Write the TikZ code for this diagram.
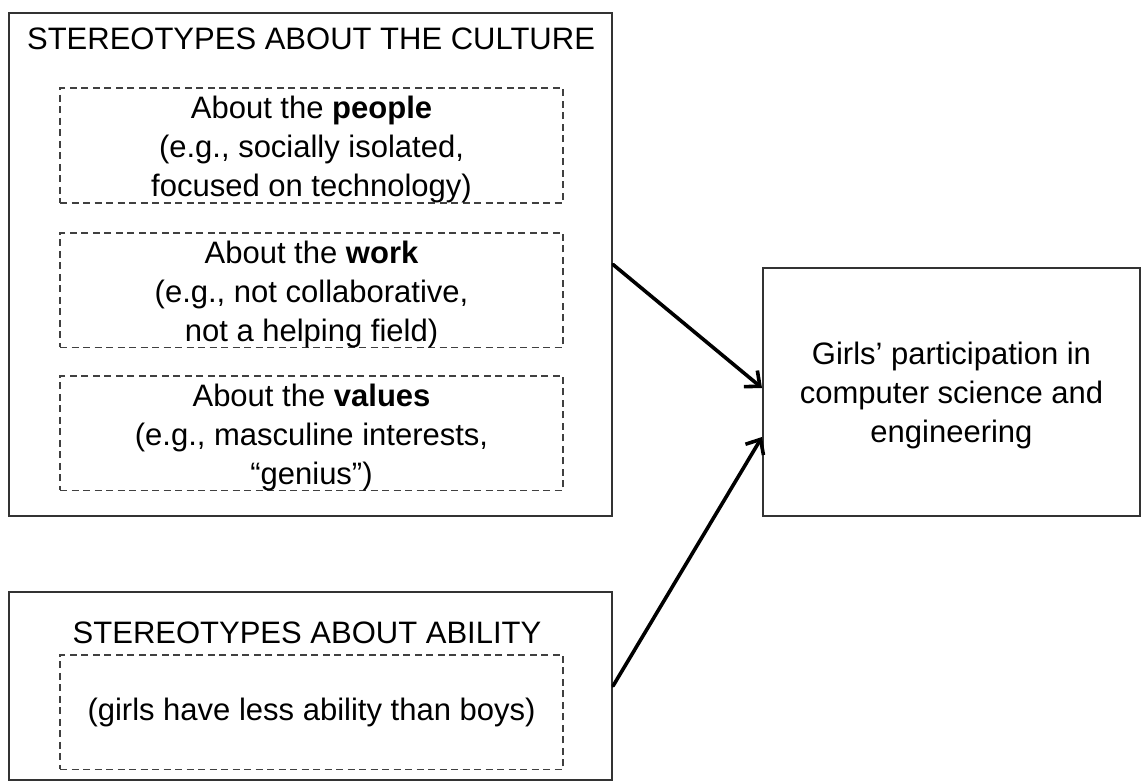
\documentclass[tikz,border=0pt]{standalone}
\usepackage{fontspec}
\setmainfont{Liberation Sans}
\usetikzlibrary{arrows.meta}
\begin{document}
\begin{tikzpicture}[x=1pt, y=-1pt,
  frame/.style={draw=black!80, line width=2pt, inner sep=0pt},
  dbox/.style={draw=black!75, line width=1.5pt, dash pattern=on 7pt off 4.5pt,
    minimum width=503pt, minimum height=114.5pt, inner sep=0pt},
  caption/.style={font=\fontsize{31}{39}\selectfont, align=center, inner sep=0pt},
  link/.style={line width=3.6pt, line cap=round,
    -{Straight Barb[length=12pt, width=21pt, line width=3.6pt]}}]
  \useasboundingbox (0,0) rectangle (1141,781);

  % culture stereotypes
  \node[frame, minimum width=603pt, minimum height=503pt] (culture) at (310.5,264.5) {};
  \node[caption, anchor=base] (cultureTitle) at (311,50) {STEREOTYPES ABOUT THE CULTURE};
  \node[dbox] (people) at (311.5,145.5) {};
  \node[caption] (peopleText) at ([yshift=-4pt]people.center)
    {About the \textbf{people}\\(e.g., socially isolated,\\focused on technology)};
  \node[dbox] (work) at (311.5,290) {};
  \node[caption] (workText) at ([yshift=-4pt]work.center)
    {About the \textbf{work}\\(e.g., not collaborative,\\not a helping field)};
  \node[dbox] (values) at (311.5,433) {};
  \node[caption] (valuesText) at ([yshift=-4pt]values.center)
    {About the \textbf{values}\\(e.g., masculine interests,\\“genius”)};

  % ability stereotypes
  \node[frame, minimum width=603pt, minimum height=188pt] (ability) at (310.5,686) {};
  \node[caption, anchor=base] (abilityTitle) at (307,643) {STEREOTYPES ABOUT ABILITY};
  \node[dbox] (less) at (311.5,712) {};
  \node[caption] (lessText) at (less.center) {(girls have less ability than boys)};

  % outcome
  \node[frame, minimum width=377pt, minimum height=248pt] (result) at (951.5,392) {};
  \node[caption] (resultText) at ([yshift=-3pt]result.center)
    {Girls’ participation in\\computer science and\\engineering};

  % connectors
  \draw[link] (culture.east) -- ([yshift=4pt]result.west);
  \draw[link] (ability.east) -- ([yshift=-45pt]result.west);
\end{tikzpicture}
\end{document}
